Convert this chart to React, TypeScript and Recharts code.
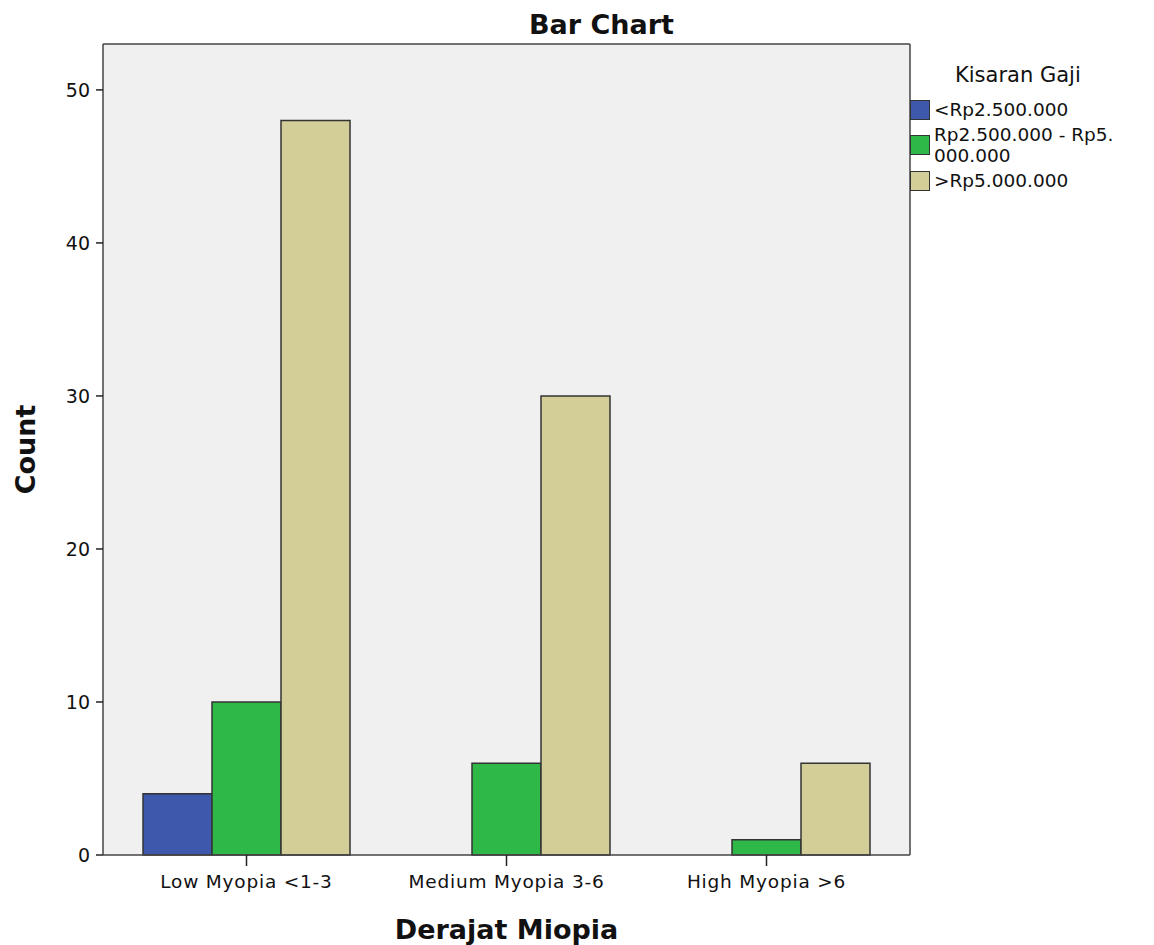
import React from "react";
import { BarChart, Bar, XAxis, YAxis, CartesianGrid, Legend } from "recharts";

const categories = ["Low Myopia <1-3", "Medium Myopia 3-6", "High Myopia >6"];
const seriesNames = ["<Rp2.500.000", "Rp2.500.000 - Rp5.000.000", ">Rp5.000.000"];
const lowIncome = [4, null, null];
const midIncome = [10, 6, 1];
const highIncome = [48, 30, 6];
const yTicks = [0, 10, 20, 30, 40, 50];
const colors = ["#3e58ac", "#2eb848", "#d3ce97"];

const data = categories.map((c, i) => ({
  name: c,
  s0: lowIncome[i],
  s1: midIncome[i],
  s2: highIncome[i],
}));

const FONT = "'DejaVu Sans', sans-serif";

const legendLines: Record<string, string[]> = {
  "Rp2.500.000 - Rp5.000.000": ["Rp2.500.000 - Rp5.", "000.000"],
};

const LegendContent = (props: any) => {
  const payload = props.payload || [];
  return (
    <div style={{ fontFamily: FONT, color: "#111" }}>
      <div style={{ fontSize: 21, marginLeft: 45, marginBottom: 11, lineHeight: "26px" }}>Kisaran Gaji</div>
      {payload.map((p: any, i: number) => {
        const lines = legendLines[p.value] || [p.value];
        return (
          <div key={i} style={{ display: "flex", alignItems: "center", marginBottom: 4 }}>
            <div
              style={{
                width: 20,
                height: 20,
                background: p.color,
                border: "1.5px solid #333",
                boxSizing: "border-box",
                marginRight: 4,
                flexShrink: 0,
              }}
            />
            <div style={{ fontSize: 18.5, lineHeight: "21px" }}>
              {lines.map((l, j) => (
                <div key={j}>{l}</div>
              ))}
            </div>
          </div>
        );
      })}
    </div>
  );
};

export default function App() {
  return (
    <div style={{ position: "absolute", left: 0, top: 0, width: 1154, height: 945, background: "#fff" }}>
      <div
        style={{
          position: "absolute",
          left: 0,
          width: 1203,
          top: 9,
          textAlign: "center",
          fontFamily: FONT,
          fontWeight: "bold",
          fontSize: 27,
          color: "#111",
        }}
      >
        Bar Chart
      </div>
      <BarChart
        width={1154}
        height={945}
        data={data}
        margin={{ top: 43, right: 0, bottom: 30, left: 63 }}
        barCategoryGap={26.5}
        barGap={0}
      >
        <CartesianGrid fill="#f0f0f0" horizontal={false} vertical={false} />
        <XAxis
          dataKey="name"
          height={60}
          padding={{ left: 13.5, right: 13.5 }}
          axisLine={{ stroke: "#444", strokeWidth: 1.5 }}
          tickLine={{ stroke: "#222", strokeWidth: 1.5 }}
          tickSize={11}
          tick={{ fontFamily: FONT, fontSize: 18.5, fill: "#111", letterSpacing: 0.8, dy: 7 }}
          label={{
            value: "Derajat Miopia",
            position: "insideBottom",
            offset: -24,
            style: { fontFamily: FONT, fontWeight: "bold", fontSize: 27, fill: "#111" },
          }}
        />
        <XAxis xAxisId="top" orientation="top" height={1} tick={false} tickLine={false} axisLine={{ stroke: "#444", strokeWidth: 1.5 }} />
        <YAxis
          domain={[0, 53]}
          ticks={yTicks}
          width={40}
          interval={0}
          axisLine={{ stroke: "#444", strokeWidth: 1.5 }}
          tickLine={{ stroke: "#222", strokeWidth: 1.5 }}
          tickSize={7}
          tick={{ fontFamily: FONT, fontSize: 19, fill: "#111", dx: -4 }}
          label={{
            value: "Count",
            angle: -90,
            position: "insideLeft",
            offset: -38,
            style: { fontFamily: FONT, fontWeight: "bold", fontSize: 27, fill: "#111", textAnchor: "middle" },
          }}
        />
        <YAxis yAxisId="right" orientation="right" width={1} tick={false} tickLine={false} axisLine={{ stroke: "#444", strokeWidth: 1.5 }} />
        <Legend
          layout="vertical"
          verticalAlign="top"
          align="right"
          itemSorter="dataKey"
          content={<LegendContent />}
          wrapperStyle={{ position: "absolute", left: 910, top: 62, width: 243 }}
        />
        <Bar dataKey="s0" name={seriesNames[0]} fill={colors[0]} stroke="#333" strokeWidth={1.5} isAnimationActive={false} />
        <Bar dataKey="s1" name={seriesNames[1]} fill={colors[1]} stroke="#333" strokeWidth={1.5} isAnimationActive={false} />
        <Bar dataKey="s2" name={seriesNames[2]} fill={colors[2]} stroke="#333" strokeWidth={1.5} isAnimationActive={false} />
      </BarChart>
    </div>
  );
}
